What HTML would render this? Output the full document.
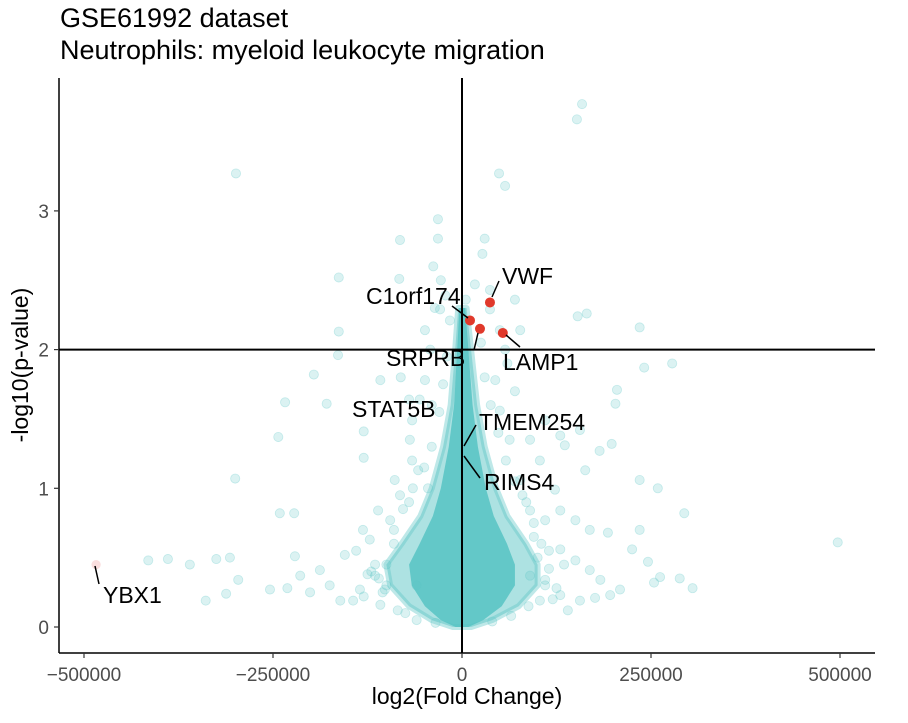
<!DOCTYPE html>
<html><head><meta charset="utf-8"><style>
body{margin:0;background:#fff;width:908px;height:718px;overflow:hidden;font-family:"Liberation Sans",Arial,sans-serif}
svg text{font-family:"Liberation Sans",Arial,sans-serif}
</style></head><body>
<svg id="chart" width="908" height="718">
<text x="60" y="27" font-size="27" fill="#000">GSE61992 dataset</text>
<text x="60" y="59" font-size="27" fill="#000">Neutrophils: myeloid leukocyte migration</text>
<g id="core"></g>
<g id="pts"></g>
<g id="axes"></g>
<g id="labels"></g>
<text transform="translate(28,365) rotate(-90)" text-anchor="middle" font-size="23">-log10(p-value)</text>
<text x="467" y="704" text-anchor="middle" font-size="23">log2(Fold Change)</text>
</svg>
<script>
const xTicks=[-500000,-250000,0,250000,500000];
const xTickLabels=["-500000","-250000","0","250000","500000"];
const yTicks=[0,1,2,3];
const coreY=[0,0.05,0.15,0.3,0.45,0.6,0.8,1.0,1.3,1.6,2.0,2.3];
const coreLeft=[-12000,-40000,-70000,-95000,-100000,-80000,-55000,-40000,-25000,-15000,-9000,-5000];
const coreRight=[12000,40000,75000,100000,100000,85000,60000,45000,30000,20000,12000,6000];
const ptX=[158800,152000,-299000,49000,57000,-31800,-31800,-82000,30000,27000,-83000,-163000,-38000,153000,165000,235000,241000,278000,-163000,-164000,-196000,-81000,-108000,205000,-234000,-179000,-70000,203000,-243000,-130000,-130000,182000,198000,-300000,235000,259000,294000,-241000,-222000,235000,497000,193000,-325000,-307000,-360000,-389000,-415000,-296000,-339000,-312000,305000,254000,288000,225000,246000,262000,-221000,-254000,-231000,-214000,-201000,-188000,-175000,-155000,-144000,-135000,-161000,-115000,-108000,-102000,-122000,-131000,-111000,-95000,-89000,-82000,-66000,-58000,-69000,-66000,-56000,-49000,-42000,-49000,-29000,-22000,-16000,70000,77000,110000,130000,136000,156000,163000,123000,103000,90000,77000,90000,110000,130000,150000,169000,130000,150000,169000,183000,196000,209000,110000,130000,156000,176000,103000,90000,50000,57000,44000,50000,63000,37000,37000,17000,5000,-100000,-90000,-70000,-60000,-45000,-40000,100000,95000,80000,70000,60000,115000,-100000,-120000,-140000,-75000,140000,120000,-28000,-36000,-110000,-115000,-105000,-90000,-78000,-65000,-50000,-40000,-30000,-25000,-20000,110000,115000,105000,95000,85000,70000,58000,48000,38000,30000,25000,-125000,-130000,125000,135000,-85000,88000,-60000,65000,-35000,40000];
const ptY=[3.77,3.66,3.27,3.27,3.18,2.94,2.80,2.79,2.80,2.69,2.51,2.52,2.60,2.24,2.26,2.16,1.87,1.90,2.13,1.96,1.82,1.80,1.78,1.71,1.62,1.61,1.64,1.61,1.37,1.41,1.22,1.27,1.32,1.07,1.06,1.0,0.82,0.82,0.82,0.70,0.61,0.68,0.49,0.50,0.45,0.49,0.48,0.34,0.19,0.24,0.28,0.32,0.35,0.56,0.47,0.36,0.51,0.27,0.28,0.37,0.25,0.41,0.30,0.52,0.19,0.27,0.19,0.37,0.16,0.27,0.63,0.70,0.84,0.77,1.06,0.95,1.20,1.13,1.35,1.49,1.64,1.78,2.0,2.14,2.29,2.39,2.21,2.36,2.14,1.49,1.38,1.31,1.42,1.13,0.99,1.20,1.35,1.06,0.84,0.77,0.84,0.77,0.70,0.56,0.48,0.41,0.34,0.23,0.27,0.34,0.23,0.19,0.21,0.19,0.37,2.14,2.0,1.78,1.56,1.35,2.29,2.43,2.47,2.36,0.45,0.6,0.9,0.3,1.0,1.6,0.5,0.65,0.95,1.7,1.9,0.55,0.3,0.4,0.55,0.1,0.12,0.2,2.5,2.3,0.35,0.45,0.25,0.7,0.85,1.0,1.15,1.3,1.55,1.75,1.95,0.3,0.42,0.6,0.75,0.9,1.05,1.2,1.4,1.6,1.8,2.05,0.38,0.22,0.28,0.45,0.12,0.15,0.05,0.08,0.03,0.04];
const hitGenes=["C1orf174","SRPRB","VWF","LAMP1"];
const hitX=[10600,23800,37000,54000];
const hitY=[2.21,2.15,2.34,2.12];
const ybxX=[-484000], ybxY=[0.45];

const sx=v=>462+v*0.000756, sy=v=>627-v*138.7;
const NS="http://www.w3.org/2000/svg";
function mk(tag,attrs,parent){const e=document.createElementNS(NS,tag);for(const k in attrs)e.setAttribute(k,attrs[k]);parent.appendChild(e);return e;}
const core=document.getElementById('core');
function env(f){let a=[];for(let i=0;i<coreY.length;i++)a.push(sx(coreLeft[i]*f)+","+sy(coreY[i]));for(let i=coreY.length-1;i>=0;i--)a.push(sx(coreRight[i]*f)+","+sy(coreY[i]));return a.join(" ");}
const p1=mk('polygon',{points:env(1),fill:"#5cc6c6","fill-opacity":"0.5","stroke":"#5cc6c6","stroke-opacity":"0.4","stroke-width":"6","stroke-linejoin":"round"},core);


const p2=mk('polygon',{points:env(0.7),fill:"#56c3c3","fill-opacity":"0.85"},core);


const pts=document.getElementById('pts');
for(let i=0;i<ptX.length;i++){
 const c=mk('circle',{cx:sx(ptX[i]),cy:sy(ptY[i]),r:4.6,fill:"#5cc6c6","fill-opacity":"0.22",stroke:"#5cc6c6","stroke-opacity":"0.3","stroke-width":"0.8"},pts);
 
 
}
const yb=mk('circle',{cx:sx(ybxX[0]),cy:sy(ybxY[0]),r:4.6,fill:"#f2a0a0","fill-opacity":"0.35"},pts);


for(let i=0;i<hitX.length;i++){
 const c=mk('circle',{cx:sx(hitX[i]),cy:sy(hitY[i]),r:5,fill:"#e0392b"},pts);
 
 
}
const ax=document.getElementById('axes');
mk('line',{x1:59,y1:78,x2:59,y2:653,stroke:"#000","stroke-width":1.5},ax);
mk('line',{x1:59,y1:653,x2:875,y2:653,stroke:"#000","stroke-width":1.5},ax);
mk('line',{x1:sx(0),y1:78,x2:sx(0),y2:653,stroke:"#000","stroke-width":2},ax);
mk('line',{x1:59,y1:sy(2),x2:875,y2:sy(2),stroke:"#000","stroke-width":2},ax);
xTicks.forEach((t,i)=>{
 mk('line',{x1:sx(t),y1:653,x2:sx(t),y2:658,stroke:"#333","stroke-width":1.2},ax);
 const tx=mk('text',{x:sx(t),y:681,"text-anchor":"middle","font-size":"19",fill:"#4d4d4d"},ax);
 tx.textContent=xTickLabels[i].replace("-","\u2212");
 
 
});
yTicks.forEach(t=>{
 mk('line',{x1:54,y1:sy(t),x2:59,y2:sy(t),stroke:"#333","stroke-width":1.2},ax);
 const tx=mk('text',{x:49,y:sy(t)+7,"text-anchor":"end","font-size":"19",fill:"#4d4d4d"},ax);
 tx.textContent=t;
 
 
});
const lb=document.getElementById('labels');
const labelText=["VWF","C1orf174","SRPRB","LAMP1","STAT5B","TMEM254","RIMS4","YBX1"];
const labelPos=[[502,284],[366,304],[386,366],[503,370],[352,417],[479,430],[484,490],[103,603]];
labelText.forEach((t,i)=>{
 const tx=mk('text',{x:labelPos[i][0],y:labelPos[i][1],"font-size":"23",fill:"#000"},lb);
 tx.textContent=t;
 
 
});
[[492,297,499,281],[468,318,452,306],[478,333,474,350],[506,335,520,347],[464,446,476,425],[464,456,480,478],[95,566,99,584]].forEach(s=>{
 mk('line',{x1:s[0],y1:s[1],x2:s[2],y2:s[3],stroke:"#000","stroke-width":1.5},lb);
});
</script>
</body></html>
